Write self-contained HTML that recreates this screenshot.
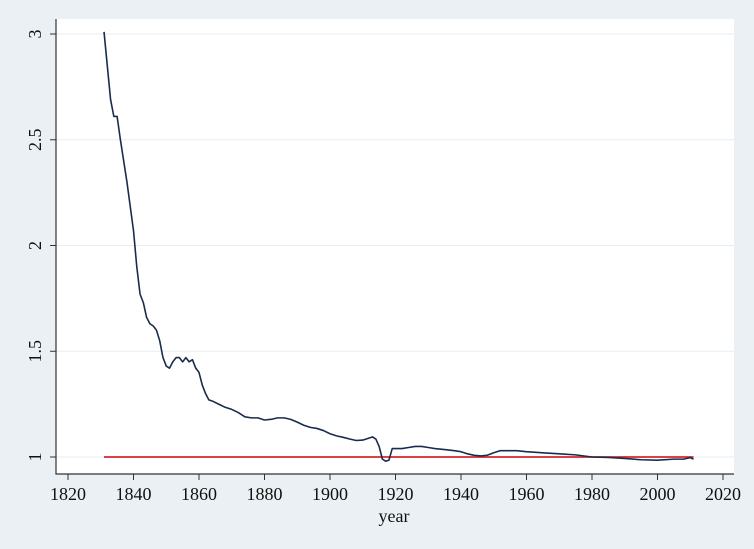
<!DOCTYPE html>
<html><head><meta charset="utf-8"><style>
html,body{margin:0;padding:0;background:#eaf0f3;}
svg{display:block;font-family:"Liberation Serif",serif;}
</style></head><body>
<svg id="c" width="754" height="549"></svg>
<script>
const years=[1831,1833,1834,1835,1836,1838,1840,1841,1842,1843,1844,1845,1846,1847,1848,1849,1850,1851,1852,1853,1854,1855,1856,1857,1858,1859,1860,1861,1862,1863,1864,1866,1868,1870,1872,1874,1876,1878,1880,1882,1884,1886,1888,1890,1892,1894,1896,1898,1900,1902,1904,1906,1908,1910,1912,1913,1914,1915,1916,1917,1918,1919,1920,1922,1924,1926,1928,1930,1932,1935,1938,1940,1942,1944,1946,1948,1950,1952,1955,1957,1960,1965,1970,1975,1980,1985,1990,1995,2000,2005,2008,2010,2011];
const ratio=[3.01,2.69,2.61,2.61,2.5,2.3,2.07,1.9,1.77,1.73,1.66,1.63,1.62,1.6,1.55,1.47,1.43,1.42,1.45,1.47,1.47,1.45,1.47,1.45,1.46,1.42,1.4,1.34,1.3,1.27,1.265,1.25,1.235,1.225,1.21,1.19,1.185,1.185,1.175,1.178,1.185,1.185,1.178,1.165,1.15,1.14,1.135,1.125,1.11,1.1,1.093,1.085,1.078,1.08,1.09,1.095,1.085,1.05,0.99,0.98,0.985,1.04,1.04,1.04,1.045,1.05,1.05,1.045,1.04,1.035,1.03,1.025,1.015,1.008,1.005,1.008,1.02,1.03,1.03,1.03,1.025,1.02,1.015,1.01,1.0,0.998,0.993,0.987,0.985,0.99,0.99,0.997,0.99];
const refYears=[1831,2011];
const refValue=[1,1];
const xTicks=[1820,1840,1860,1880,1900,1920,1940,1960,1980,2000,2020];
const yTicks=[1,1.5,2,2.5,3];
const yTickLabels=["1","1.5","2","2.5","3"];

const NS="http://www.w3.org/2000/svg";
const svg=document.getElementById('c');
const X=v=>68+(v-1820)*3.275;
const Y=v=>457-(v-1)*211.5;
function el(t,a,p){const e=document.createElementNS(NS,t);for(const k in a)e.setAttribute(k,a[k]);(p||svg).appendChild(e);return e;}

const bg=el('rect',{x:56,y:19,width:678,height:455,fill:'#fff'});



yTicks.forEach((t,i)=>{
  const g=el('line',{x1:56,x2:734,y1:Y(t),y2:Y(t),stroke:'#e6eef2','stroke-width':1});
  
  
  el('line',{x1:50,x2:56,y1:Y(t),y2:Y(t),stroke:'#333','stroke-width':1});
  const tx=el('text',{x:0,y:0,'font-size':18,fill:'#111','text-anchor':'middle',transform:`translate(41,${Y(t)}) rotate(-90)`});
  tx.textContent=yTickLabels[i];
  
  
});
xTicks.forEach(t=>{
  el('line',{x1:X(t),x2:X(t),y1:474,y2:480,stroke:'#333','stroke-width':1});
  const tx=el('text',{x:X(t),y:500,'font-size':18,fill:'#111','text-anchor':'middle'});
  tx.textContent=t;
  
  
});
const ya=el('line',{x1:56,x2:56,y1:19,y2:474.5,stroke:'#333','stroke-width':1.2});


const xa=el('line',{x1:55.5,x2:734,y1:474,y2:474,stroke:'#333','stroke-width':1.2});


const xt=el('text',{x:394,y:522,'font-size':18,fill:'#111','text-anchor':'middle'});
xt.textContent='year';



const ref=el('polyline',{points:refYears.map((y,i)=>X(y)+','+Y(refValue[i])).join(' '),fill:'none',stroke:'#d7262b','stroke-width':1.8});


const ln=el('polyline',{points:years.map((y,i)=>X(y)+','+Y(ratio[i])).join(' '),fill:'none',stroke:'#1a2c4c','stroke-width':1.6,'stroke-linejoin':'round'});


</script>
</body></html>
